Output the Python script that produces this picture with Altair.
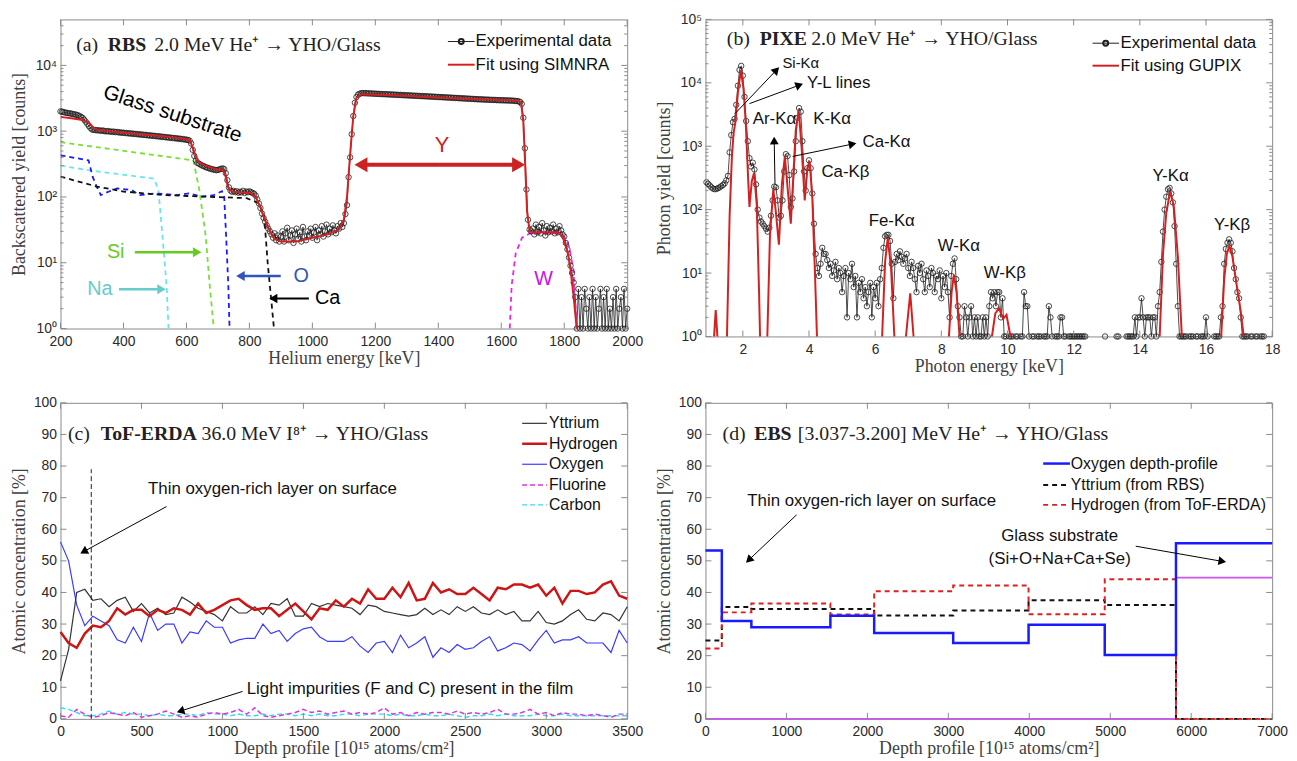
import math
import altair as alt
import pandas as pd

SANS = "Liberation Sans"
SERIF = "Liberation Serif"
FRAME = "#8a8a8a"
LABEL = "#2a2a2a"
TITLE = "#404040"
RED = "#d42020"
INK = "#1e1e1e"

PW = 572
HA, HB, HC, HD = 312, 320, 319, 319

# ---------------- (a) RBS ----------------
A_XTICKS = [200, 400, 600, 800, 1000, 1200, 1400, 1600, 1800, 2000]
LOG_TICKS_A = [1, 10, 100, 1000, 10000]
RBS_STEP = 5
RBS_BLOCKS = [
    (200, [2000, 1980, 1950, 1920, 1900, 1880, 1860, 1850, 1820, 1800, 1780, 1750, 1700, 1650, 1600, 1500, 1400, 1300, 1200, 1120]),
    (300, [1060, 1050, 1040, 1030, 1035, 1020, 1015, 1025, 1000, 995, 1005, 985, 990, 975, 985, 965, 975, 955, 960, 945]),
    (400, [950, 935, 940, 925, 930, 915, 920, 905, 910, 895, 900, 885, 890, 875, 880, 865, 870, 855, 860, 845]),
    (500, [850, 835, 840, 825, 830, 815, 820, 805, 810, 795, 800, 785, 790, 775, 780, 765, 770, 755, 760, 745]),
    (600, [745, 735, 720, 650, 520, 420, 360, 330, 320, 310, 300, 295, 285, 280, 275, 270, 265, 262, 258, 255]),
    (700, [258, 262, 268, 272, 265, 230, 180, 140, 125, 120, 124, 118, 122, 116, 120, 117, 124, 115, 121, 118]),
    (800, [122, 118, 115, 112, 105, 92, 80, 68, 56, 48, 42, 37, 33, 30, 27, 24, 28, 22, 26, 21]),
    (900, [25, 30, 21, 28, 34, 22, 26, 31, 20, 27, 33, 23, 29, 21, 35, 25, 22, 30, 26, 33]),
    (1000, [24, 29, 35, 22, 31, 27, 36, 25, 30, 38, 27, 33, 29, 37, 31, 28, 36, 33, 40, 35]),
    (1100, [40, 55, 75, 200, 400, 900, 1700, 2700, 3300, 3600, 3700, 3780, 3800, 3770, 3790, 3750, 3770, 3730, 3750, 3710]),
    (1200, [3720, 3690, 3700, 3670, 3680, 3650, 3660, 3630, 3640, 3610, 3620, 3590, 3600, 3570, 3580, 3550, 3560, 3530, 3540, 3510]),
    (1300, [3520, 3490, 3500, 3470, 3480, 3450, 3460, 3430, 3440, 3410, 3420, 3390, 3400, 3370, 3380, 3350, 3360, 3330, 3340, 3310]),
    (1400, [3320, 3290, 3300, 3270, 3280, 3250, 3260, 3230, 3240, 3210, 3220, 3190, 3200, 3170, 3180, 3150, 3160, 3130, 3140, 3110]),
    (1500, [3120, 3090, 3100, 3070, 3080, 3050, 3060, 3040, 3050, 3020, 3030, 3010, 3020, 2990, 3000, 2980, 2990, 2960, 2970, 2950]),
    (1600, [2960, 2940, 2950, 2930, 2940, 2920, 2930, 2900, 2910, 2880, 2870, 2840, 2780, 2600, 1600, 550, 130, 45, 32, 30]),
    (1700, [33, 27, 38, 29, 35, 28, 40, 31, 26, 36, 29, 34, 30, 38, 28, 33, 29, 36, 31, 27]),
    (1800, [25, 20, 16, 12, 9, 7, 5, 3, 1, 4, 1, 3, 1, 4, 2, 1, 3, 1, 4, 1]),
    (1900, [3, 1, 2, 4, 1, 3, 1, 4, 1, 2, 1, 3, 1, 4, 1, 2, 3, 1, 4, 1, 2]),
]
RBS_FIT_E = [200, 240, 270, 290, 305, 320, 400, 500, 600, 612, 625, 638, 660, 700, 715, 722, 732, 745, 805, 820, 835, 850, 865,
             880, 900, 950, 1000, 1050, 1085, 1100, 1110, 1120, 1130, 1140, 1155, 1200, 1300, 1400, 1500, 1600, 1655, 1663,
             1670, 1676, 1682, 1690, 1700, 1780, 1795, 1810, 1820, 1830, 1838, 1842]
RBS_FIT_Y = [1650, 1560, 1480, 1350, 1120, 1040, 950, 860, 760, 720, 480, 340, 300, 258, 262, 230, 140, 120, 115, 100, 70, 45, 30,
             23, 21, 21, 24, 27, 32, 45, 100, 450, 1700, 3200, 3650, 3620, 3450, 3250, 3100, 2980, 2900, 2700,
             1400, 300, 60, 30, 29, 29, 25, 15, 8, 3, 1.2, 0.5]
SI_E = [200, 622, 641, 661, 674, 687]
SI_Y = [680, 360, 128, 26, 4.5, 1]
O_E = [200, 289, 302, 315, 328, 354, 380, 426, 452, 504, 570, 608, 648, 687, 713, 720, 726, 733, 737]
O_Y = [430, 360, 204, 144, 107, 121, 135, 127, 107, 113, 107, 113, 101, 107, 122, 100, 26, 4.5, 1]
NA_E = [200, 289, 497, 511, 524, 537, 543]
NA_Y = [300, 255, 190, 128, 25, 4.5, 1]
CA_E = [200, 315, 400, 530, 661, 791, 830, 847, 858, 868, 878]
CA_Y = [204, 144, 121, 107, 101, 96, 80, 51, 10, 3.2, 1]
W_E = [1627, 1633, 1646, 1666, 1692, 1780, 1800, 1815, 1829, 1835, 1841]
W_Y = [1, 4.5, 14, 24, 28, 28, 25, 18, 8, 2.5, 1]

# ---------------- (b) PIXE ----------------
B_XTICKS = [2, 4, 6, 8, 10, 12, 14, 16, 18]
LOG_TICKS_B = [1, 10, 100, 1000, 10000, 100000]
PIXE_STEP = 0.05
N = None
PIXE_BLOCKS = [
    (0.90, [270, 255, 240, 225, 215, 210, 212, 218, 225, 235, 245, 260, 290, 340]),
    (1.60, [800, 1500, 2400, 2700, 4500, 9000, 16000, 18500, 13000, 6000, 2500, 1200, 650, 480, 550, 430, 250, 100, 75, 65]),
    (2.60, [60, 55, 50, 45, 52, 80, 140, 230, 225, 140, 75, 80, 140, 400, 750, 700, 350, 110]),
    (3.50, [150, 400, 1200, 2800, 4000, 3500, 1200, 400, 200, 450, 600, 450, 180, 60, 20, 12, 9, 14, 25, 20]),
    (4.50, [20, 16, 12, 14, 9, 11, 15, 8, 12, 10, 5, 9, 12, 2, 10, 8, 14, 6, 9, 2, 7, 5, 8, 4, 6, 3, 5, 7, 2, 6, 4, 7, 3, 8, 12]),
    (6.25, [25, 38, 40, 40, 32, 14, 4, 15, 20, 16, 22, 18, 14]),
    (6.90, [17, 20, 12, 9, 15, 12, 8, 5, 13, 10, 14, 8, 5, 11, 9, 6, 12, 10, 5, 9, 8, 11, 4, 9, 6, 10, 5, 2]),
    (8.30, [9, 14, 17, 8, 3, 2]),
    (8.60, [1, 1, 3, 2, 1, 2, 3, 1, 2, 1, 2, 1, 1, 2, 1, 2, 1, 3, 5, 4, 5, 3, 5, 5, 2, 4, 1, 1, N, 1, 1, 1, N, 1, 1, N, 1, 1, 5, 3]),
    (10.60, [3, 1, N, 1, 1, N, 1, 1, 1, N, 1, 1, 1, 3, 2, 1, N, 1, 1, 1, 2, 2, 1, 1, N, 1, 1, 1, 1, 1, 1, 1, 1, 1, 1, 1, N, N]),
    (12.50, [N, N, N, N, N, N, N, N, N, 1, N, N, N, N, N, N, 1, 1, N, N, N, N, 1, 1, 1, 1, 1, 2, 1, 2, 2]),
    (14.05, [4, 2, 1, 2, 2, 2, 1, 2, 2, 1, 3]),
    (14.60, [5, 15, 45, 100, 160, 210, 220, 180, 130, 55, 14, 3, 1, 1, 1]),
    (15.35, [1, 1, N, 1, 1, 1, N, 1, 1, N, 1, 1, 1, 2, 1, N, N, N, 1, 1, 1, 1, 2]),
    (16.50, [3, 14, 24, 30, 34, 30, 22, 12, 8, 5, 4, 2, 1, 1, 1]),
    (17.25, [1, N, 1, 1, N, 1, 1, N, 1, 1, 1, N]),
]
PIXE_FIT_E = [1.05, 1.13, 1.18, 1.23, 1.30, 1.45, 1.52, 1.60, 1.67, 1.72, 1.78, 1.85, 1.94, 2.02, 2.09, 2.15, 2.20, 2.27, 2.34,
              2.42, 2.49, 2.52, 2.56, 2.70, 2.74, 2.82, 2.92, 3.00, 3.09, 3.18, 3.27, 3.36, 3.45, 3.52, 3.60, 3.69, 3.78,
              3.87, 3.95, 4.02, 4.10, 4.18, 4.24, 4.30, 6.15, 6.21, 6.30, 6.38, 6.48, 6.58, 6.63, 6.88, 6.93, 7.06, 7.16,
              7.20, 8.18, 8.23, 8.31, 8.38, 8.46, 8.55, 8.60, 9.48, 9.53, 9.63, 9.74, 9.87, 9.97, 10.09, 10.14, 14.55,
              14.60, 14.70, 14.80, 14.92, 15.03, 15.15, 15.27, 15.32, 16.41, 16.46, 16.55, 16.63, 16.71, 16.80, 16.90,
              16.96, 17.05, 17.14, 17.20]
PIXE_FIT_Y = [0.05, 1.0, 2.6, 1.0, 0.05, 0.05, 1.0, 80, 700, 1600, 2500, 7000, 16000, 8000, 2200, 400, 110, 280, 380,
              120, 5, 1.0, 0.05, 0.05, 1.0, 40, 210, 90, 28, 250, 690, 200, 60, 300, 1800, 3700, 900,
              140, 450, 580, 150, 10, 1.0, 0.05, 0.05, 1.0, 15, 36, 12, 1.0, 0.05, 0.05, 1.0, 4.8, 1.0,
              0.05, 0.05, 1.0, 5, 9.4, 5, 1.0, 0.05, 0.05, 1.0, 2.3, 2.8, 1.9, 2.2, 1.0, 0.05, 0.05,
              1.0, 20, 90, 195, 110, 18, 1.0, 0.05, 0.05, 1.0, 8, 20, 27, 18, 8,
              5, 2.5, 1.0, 0.05]

# ---------------- (c) ToF-ERDA ----------------
C_XTICKS = [0, 500, 1000, 1500, 2000, 2500, 3000, 3500]
PCT_TICKS = [0, 10, 20, 30, 40, 50, 60, 70, 80, 90, 100]
ERDA_STEP = 50
ERDA_Y = [12, 22, 40, 41, 37.5, 38, 35.5, 37.5, 38.5, 34,
          36.5, 33.5, 35, 33, 33.5, 38.5, 37, 35, 34, 33,
          31, 35.5, 33.5, 33.5, 35.5, 33, 36.5, 36, 38, 32.5,
          32.5, 36.5, 35.5, 36.5, 36, 35.5, 35, 33, 36, 35.5,
          34, 33.5, 33, 32.5, 33, 35, 33, 34.5, 33, 35.5,
          34, 35.5, 33.5, 33, 34.5, 33, 34, 31, 31, 34,
          30.5, 30, 31, 33, 34.5, 31.5, 31, 33.5, 33, 31, 35.5]
ERDA_H = [27.5, 24, 22.5, 27, 29.5, 29, 31, 35, 33, 34.5,
          34.5, 32.5, 34.5, 33.5, 35, 34.5, 33, 36.5, 33.5, 34.5,
          36, 37.5, 38, 36, 34.5, 35, 35, 32.5, 34.5, 36.5,
          34, 31.5, 35, 34.5, 37.5, 35.5, 38, 36.5, 41, 38,
          38, 41.5, 38.5, 43, 37.5, 38, 43, 40, 41, 39.5,
          39.5, 41.5, 39.5, 37.5, 41.5, 41, 42.5, 42.5, 41.5, 42.5,
          39, 41.5, 36.5, 40.5, 40.5, 39.5, 40, 42.5, 43.5, 39, 38]
ERDA_O = [56, 50, 36, 29.5, 32.5, 31, 29.5, 25, 24, 29,
          24.5, 33.5, 28, 30, 30, 24, 27.5, 27, 31, 29,
          29, 24, 25, 25.5, 25.5, 30, 27, 28, 24.5, 27,
          28.5, 29, 26, 24.5, 24.5, 24.5, 26, 23, 21, 24,
          24.5, 21, 26.5, 22.5, 24, 26, 19.5, 22.5, 21, 23.5,
          22, 22.5, 24.5, 26, 21.5, 22.5, 24, 23.5, 21.5, 25,
          28, 24, 25, 25, 26, 24, 24, 24, 21, 28, 24]
ERDA_F = [1, 0.5, 3, 1.5, 0.5, 1, 2, 1.5, 1, 2,
          0.5, 1, 1.5, 2.5, 1.5, 0.5, 1, 0.5, 1.5, 2,
          1.5, 2, 3, 1.5, 3.5, 1, 0.5, 1, 1.5, 2,
          3, 2, 2.5, 1.5, 2, 2.5, 1.5, 2, 1.5, 2,
          3.5, 1.5, 2, 1, 2, 1.5, 2, 2, 1.5, 2.5,
          1.5, 2, 1.5, 2, 3, 1.5, 1.5, 2, 3, 1.5,
          2, 1, 2, 1.5, 1.5, 1, 1.5, 1, 0.5, 1.5, 1.5]
ERDA_C = [3.5, 3, 2, 1, 1, 1.5, 2.5, 1.5, 2, 1.5,
          1.5, 1, 1.5, 1, 1, 1.5, 1.5, 1, 2, 1.5,
          1.5, 1, 1.5, 1, 1, 1.5, 1, 1.5, 1.5, 1,
          1.5, 1, 1.5, 1, 1, 1.5, 1.5, 1, 1.5, 1.5,
          1.5, 1, 1.5, 1, 1, 1.5, 1, 1, 1.5, 1,
          0.5, 1, 1, 1.5, 1, 1.5, 1, 1, 1, 1.5,
          1, 1, 1.5, 1, 1, 1, 1, 1, 1, 1, 1]
SURFACE_DEPTH = 190
SURFACE_LINE_TOP = 79

# ---------------- (d) EBS ----------------
D_XTICKS = [0, 1000, 2000, 3000, 4000, 5000, 6000, 7000]
EBS_BOUNDS = [0, 202, 567, 1543, 2084, 3060, 3991, 4932, 5812, 7000]
EBS_O = [53.3, 31.0, 29.0, 32.6, 27.2, 24.0, 29.8, 20.2, 55.6]
EBS_Y = [24.8, 35.4, 34.8, 34.8, 32.7, 34.3, 37.5, 36.0, 0]
EBS_H = [22.3, 33.7, 36.5, 33.0, 40.4, 42.2, 33.1, 44.2, 0]
EBS_GLASS = [0, 0, 0, 0, 0, 0, 0, 0, 44.7]

LOGEXPR = ("datum.value < 3 ? '10⁰' : datum.value < 30 ? '10¹' : datum.value < 300 ? '10²' : "
           "datum.value < 3000 ? '10³' : datum.value < 30000 ? '10⁴' : '10⁵'")

ONE = pd.DataFrame({"k": [0]})


def x_axis(title, values):
    return alt.Axis(title=title, values=values, format="d", ticks=False, domain=False, grid=False,
                    labelFont=SANS, labelFontSize=14, labelColor=LABEL, labelPadding=6,
                    labelFlush=False, labelOverlap=False,
                    titleFont=SERIF, titleFontSize=18, titleFontWeight="normal",
                    titleColor=TITLE, titlePadding=1)


def y_axis(title, values, expr=None):
    kw = dict(title=title, values=values, ticks=False, domain=False, grid=False,
              labelFont=SANS, labelFontSize=14, labelColor=LABEL, labelPadding=4,
              labelOverlap=False, minExtent=28, maxExtent=28,
              titleFont=SERIF, titleFontSize=18, titleFontWeight="normal",
              titleColor=TITLE, titlePadding=4)
    if expr:
        kw["labelExpr"] = expr
    else:
        kw["format"] = "d"
    return alt.Axis(**kw)


def T(x, y, s, size=17, color="#111111", font=SANS, weight="normal", align="left", angle=None):
    kw = dict(text=s, align=align, baseline="middle", fontSize=size, font=font,
              color=color, fontWeight=weight)
    if angle is not None:
        kw["angle"] = angle
    return alt.Chart(ONE).mark_text(**kw).encode(x=alt.value(x), y=alt.value(y))


def seg(x1, y1, x2, y2, color, width=1.0, dash=None):
    kw = dict(color=color, strokeWidth=width)
    if dash:
        kw["strokeDash"] = dash
    return alt.Chart(ONE).mark_rule(**kw).encode(
        x=alt.value(x1), y=alt.value(y1), x2=alt.value(x2), y2=alt.value(y2))


def arrow(x1, y1, x2, y2, color="#000000", width=1.0, head=80):
    dx, dy = x2 - x1, y2 - y1
    n = math.hypot(dx, dy)
    ux, uy = dx / n, dy / n
    h = math.sqrt(3) * math.sqrt(head) / 4
    cx, cy = x2 - ux * h, y2 - uy * h
    ang = math.degrees(math.atan2(dx, -dy)) % 360
    tip = alt.Chart(ONE).mark_point(shape="triangle-up", filled=True, size=head, color=color,
                                    opacity=1, angle=ang, strokeWidth=0).encode(
        x=alt.value(cx), y=alt.value(cy))
    return [seg(x1, y1, cx, cy, color, width), tip]


def frame_ticks(xs, ys, xax, yax, xvals, yvals, W, H, yminor=None, L=6):
    out = []
    dfx = pd.DataFrame({"t": xvals})
    for y1, y2 in ((H, H - L), (0, L)):
        out.append(alt.Chart(dfx).mark_rule(color=FRAME, strokeWidth=1).encode(
            x=alt.X("t:Q", scale=xs, axis=xax), y=alt.value(y1), y2=alt.value(y2)))
    sets = [(yvals, L)]
    if yminor:
        sets.append((yminor, 3))
    for vals, ln in sets:
        dfy = pd.DataFrame({"t": vals})
        for x1, x2 in ((0, ln), (W, W - ln)):
            out.append(alt.Chart(dfy).mark_rule(color=FRAME, strokeWidth=1).encode(
                y=alt.Y("t:Q", scale=ys, axis=yax), x=alt.value(x1), x2=alt.value(x2)))
    return out


def minor_log(maxv):
    vals = []
    for k in range(0, 6):
        for d in range(2, 10):
            v = d * 10 ** k
            if v < maxv:
                vals.append(v)
    return vals


def title3(x0, x1, x2, y, a, b, c):
    return [T(x0, y, a, 20, "#222222", SERIF),
            T(x1, y, b, 20, "#222222", SERIF, "bold"),
            T(x2, y, c, 20, "#222222", SERIF)]


# ================= panel (a) =================
xa = alt.Scale(domain=[200, 2000], nice=False, zero=False)
ya = alt.Scale(type="log", domain=[1, 50000], nice=False)
XA = x_axis("Helium energy [keV]", A_XTICKS)
YA = y_axis("Backscattered yield [counts]", LOG_TICKS_A, LOGEXPR)
rbs_rows = [(e0 + RBS_STEP * i, v) for e0, vals in RBS_BLOCKS for i, v in enumerate(vals)]
rbs_df = pd.DataFrame(rbs_rows, columns=["E", "Y"])


def enc_a():
    return dict(x=alt.X("E:Q", scale=xa, axis=XA), y=alt.Y("Y:Q", scale=ya, axis=YA))


def comp(E, Y, color):
    df = pd.DataFrame({"E": E, "Y": Y})
    return alt.Chart(df).mark_line(color=color, strokeWidth=1.8, strokeDash=[5, 4], clip=True).encode(**enc_a())


a_layers = [
    alt.Chart(rbs_df).mark_line(color=INK, strokeWidth=0.8).encode(**enc_a()),
    comp(SI_E, SI_Y, "#77e030"),
    comp(NA_E, NA_Y, "#66e6f0"),
    comp(O_E, O_Y, "#1a1aff"),
    comp(CA_E, CA_Y, "#111111"),
    comp(W_E, W_Y, "#ee22ee"),
    alt.Chart(rbs_df).mark_point(shape="circle", filled=False, size=30, color=INK, strokeWidth=0.9,
                                 opacity=0.9).encode(**enc_a()),
    alt.Chart(pd.DataFrame({"E": RBS_FIT_E, "Y": RBS_FIT_Y})).mark_line(
        color=RED, strokeWidth=2, clip=True).encode(**enc_a()),
]
a_layers += frame_ticks(xa, ya, XA, YA, A_XTICKS, LOG_TICKS_A, PW, HA, minor_log(50000))
a_layers += title3(15.8, 47.7, 94.6, 25.7, "(a)", "RBS", "2.0 MeV He⁺ → YHO/Glass")
a_layers += [seg(391, 22.3, 418, 22.3, INK, 1),
             alt.Chart(ONE).mark_point(shape="circle", filled=False, size=25, color=INK, opacity=1).encode(
                 x=alt.value(404.5), y=alt.value(22.3)),
             T(419, 22.3, "Experimental data", 17),
             seg(391, 45.7, 418, 45.7, RED, 2),
             T(419, 45.7, "Fit using SIMNRA", 17)]
a_layers += [T(113, 95.7, "Glass substrate", 21, "#000000", align="center", angle=18),
             T(385, 126.7, "Y", 22, "#cc2222", align="center")]
a_layers += arrow(383, 146.7, 296.7, 146.7, "#cc2222", 4, 230)
a_layers += arrow(383, 146.7, 469, 146.7, "#cc2222", 4, 230)
a_layers += [T(55.7, 235, "Si", 20, "#66cc22", align="center")] + arrow(75, 235, 142.3, 235, "#66cc22", 2.5, 100)
a_layers += [T(39.7, 272.3, "Na", 20, "#66cccc", align="center")] + arrow(59, 272.3, 106.3, 272.3, "#66cccc", 2.5, 100)
a_layers += [T(243, 259, "O", 20, "#3355bb", align="center")] + arrow(222.3, 259, 177.3, 259, "#3355bb", 2.5, 100)
a_layers += [T(269.7, 281.7, "Ca", 20, "#000000", align="center")] + arrow(250.7, 281.7, 210.7, 281.7, "#000000", 2, 90)
a_layers += [T(487.5, 261.7, "W", 20, "#cc11dd", align="center")]
panel_a = alt.layer(*a_layers).properties(width=PW, height=HA)

# ================= panel (b) =================
xb = alt.Scale(domain=[0.87, 18], nice=False, zero=False)
yb = alt.Scale(type="log", domain=[1, 100000], nice=False)
XB = x_axis("Photon energy [keV]", B_XTICKS)
YB = y_axis("Photon yield [counts]", LOG_TICKS_B, LOGEXPR)
pixe_rows = []
sid = 0
prev_none = True
for e0, vals in PIXE_BLOCKS:
    for i, v in enumerate(vals):
        if v is None:
            if not prev_none:
                sid += 1
            prev_none = True
            continue
        prev_none = False
        pixe_rows.append((round(e0 + PIXE_STEP * i, 3), v, sid))
pixe_df = pd.DataFrame(pixe_rows, columns=["E", "Y", "seg"])


def enc_b():
    return dict(x=alt.X("E:Q", scale=xb, axis=XB), y=alt.Y("Y:Q", scale=yb, axis=YB))


b_layers = [
    alt.Chart(pixe_df).mark_line(color=INK, strokeWidth=0.8).encode(detail="seg:N", **enc_b()),
    alt.Chart(pixe_df).mark_point(shape="circle", filled=False, size=30, color=INK, strokeWidth=0.9,
                                  opacity=0.9).encode(**enc_b()),
    alt.Chart(pd.DataFrame({"E": PIXE_FIT_E, "Y": PIXE_FIT_Y})).mark_line(
        color=RED, strokeWidth=2, clip=True).encode(**enc_b()),
]
b_layers += frame_ticks(xb, yb, XB, YB, B_XTICKS, LOG_TICKS_B, PW, HB, minor_log(100000))
b_layers += title3(21.6, 54.8, 106.7, 20, "(b)", "PIXE", "2.0 MeV He⁺ → YHO/Glass")
b_layers += [seg(390.7, 24, 417.4, 24, INK, 1),
             alt.Chart(ONE).mark_point(shape="circle", filled=False, size=25, color=INK, opacity=1).encode(
                 x=alt.value(404), y=alt.value(24)),
             T(419, 24, "Experimental data", 17),
             seg(390.7, 46.7, 417.4, 46.7, RED, 2),
             T(419, 46.7, "Fit using GUPIX", 17)]
for s, x, y, fs in [("Si-Kα", 77.7, 44.3, 15), ("Y-L lines", 102.5, 64, 17), ("Ar-Kα", 47.7, 101, 17),
                    ("K-Kα", 108.7, 101, 17), ("Ca-Kα", 158.5, 124, 17), ("Ca-Kβ", 117, 154, 17),
                    ("Fe-Kα", 164.7, 203.3, 17), ("W-Kα", 234.5, 228.3, 17), ("W-Kβ", 280.9, 255.7, 17),
                    ("Y-Kα", 451.1, 157.7, 17), ("Y-Kβ", 513.3, 207.7, 17)]:
    b_layers.append(T(x, y, s, fs))
b_layers += arrow(29.9, 95, 74.3, 48.3)
b_layers += arrow(44.4, 85, 98.4, 65)
b_layers += arrow(70.2, 166.7, 69.3, 118.3)
b_layers += arrow(88, 138.3, 152.3, 125)
panel_b = alt.layer(*b_layers).properties(width=PW, height=HB)

# ================= panel (c) =================
xc = alt.Scale(domain=[0, 3500], nice=False, zero=False)
yc = alt.Scale(domain=[0, 100], nice=False)
XC = x_axis("Depth profile [10¹⁵ atoms/cm²]", C_XTICKS)
YC = y_axis("Atomic concentration [%]", PCT_TICKS)


def erda_line(vals, color, width, dash=None):
    df = pd.DataFrame({"D": [ERDA_STEP * i for i in range(len(vals))], "V": vals})
    kw = dict(color=color, strokeWidth=width)
    if dash:
        kw["strokeDash"] = dash
    return alt.Chart(df).mark_line(**kw).encode(
        x=alt.X("D:Q", scale=xc, axis=XC), y=alt.Y("V:Q", scale=yc, axis=YC))


C_SERIES = [("Yttrium", ERDA_Y, "#333333", 1.2, None),
            ("Hydrogen", ERDA_H, "#cc1515", 2.5, None),
            ("Oxygen", ERDA_O, "#3a3aff", 1.2, None),
            ("Fluorine", ERDA_F, "#dd33dd", 1.5, [5, 3]),
            ("Carbon", ERDA_C, "#33ddee", 1.5, [5, 3])]
c_layers = [erda_line(ERDA_C, "#33ddee", 1.5, [5, 3]),
            erda_line(ERDA_F, "#dd33dd", 1.5, [5, 3]),
            erda_line(ERDA_O, "#3a3aff", 1.2),
            erda_line(ERDA_Y, "#333333", 1.2),
            erda_line(ERDA_H, "#cc1515", 2.5),
            alt.Chart(pd.DataFrame({"D": [SURFACE_DEPTH], "lo": [0], "hi": [SURFACE_LINE_TOP]})).mark_rule(
                color="#222222", strokeWidth=1, strokeDash=[5, 3]).encode(
                x=alt.X("D:Q", scale=xc, axis=XC), y=alt.Y("lo:Q", scale=yc, axis=YC), y2="hi:Q")]
c_layers += frame_ticks(xc, yc, XC, YC, C_XTICKS, PCT_TICKS, PW, HC)
c_layers += title3(7.5, 40.7, 142.3, 31.3, "(c)", "ToF-ERDA", "36.0 MeV I⁸⁺ → YHO/Glass")
for (lab, _v, col, w, dash), y in zip(C_SERIES, [20.7, 41.3, 62, 83, 103]):
    c_layers += [seg(466, y, 491, y, col, w, dash), T(493, y, lab, 16)]
c_layers += [T(88.4, 87.3, "Thin oxygen-rich layer on surface", 17)] + arrow(107, 104.7, 20, 152)
c_layers += [T(188, 288.7, "Light impurities (F and C) present in the film", 17)] + arrow(183.8, 291.3, 117.4, 312.3)
panel_c = alt.layer(*c_layers).properties(width=PW, height=HC)

# ================= panel (d) =================
xd = alt.Scale(domain=[0, 7000], nice=False, zero=False)
yd = alt.Scale(domain=[0, 100], nice=False)
XD = x_axis("Depth profile [10¹⁵ atoms/cm²]", D_XTICKS)
YD = y_axis("Atomic concentration [%]", PCT_TICKS)


def step_line(vals, color, width, dash=None):
    df = pd.DataFrame({"D": EBS_BOUNDS, "V": vals + [vals[-1]]})
    kw = dict(color=color, strokeWidth=width, interpolate="step-after")
    if dash:
        kw["strokeDash"] = dash
    return alt.Chart(df).mark_line(**kw).encode(
        x=alt.X("D:Q", scale=xd, axis=XD), y=alt.Y("V:Q", scale=yd, axis=YD))


d_layers = [step_line(EBS_GLASS, "#cc55ee", 1.8),
            step_line(EBS_Y, "#111111", 2, [5, 4]),
            step_line(EBS_H, "#e02020", 2, [5, 4]),
            step_line(EBS_O, "#1a1aff", 2.5)]
d_layers += frame_ticks(xd, yd, XD, YD, D_XTICKS, PCT_TICKS, PW, HD)
d_layers += title3(17.3, 49.2, 93.2, 31.3, "(d)", "EBS", "[3.037-3.200] MeV He⁺ → YHO/Glass")
for (lab, col, w, dash), y in zip([("Oxygen depth-profile", "#1a1aff", 2.5, None),
                                   ("Yttrium (from RBS)", "#111111", 2, [5, 4]),
                                   ("Hydrogen (from ToF-ERDA)", "#e02020", 2, [5, 4])], [61.3, 83, 103]):
    d_layers += [seg(340.9, y, 367.9, y, col, w, dash), T(368.7, y, lab, 16)]
d_layers += [T(42.2, 98.7, "Thin oxygen-rich layer on surface", 17)] + arrow(92, 113, 40.9, 161.3)
d_layers += [T(357.5, 134.7, "Glass substrate", 17, align="center"),
             T(357.5, 157.3, "(Si+O+Na+Ca+Se)", 17, align="center")] + arrow(434.3, 144.7, 525.5, 160.7)
panel_d = alt.layer(*d_layers).properties(width=PW, height=HD)

chart = alt.concat(panel_a, panel_b, panel_c, panel_d, columns=2,
                   spacing={"row": 19, "column": 11}).properties(
    padding={"left": 2, "top": 0, "right": 0, "bottom": 0},
    background="white",
).configure_view(stroke=FRAME, strokeWidth=1)

chart.save("out.html", embed_options={"renderer": "svg", "actions": False})
